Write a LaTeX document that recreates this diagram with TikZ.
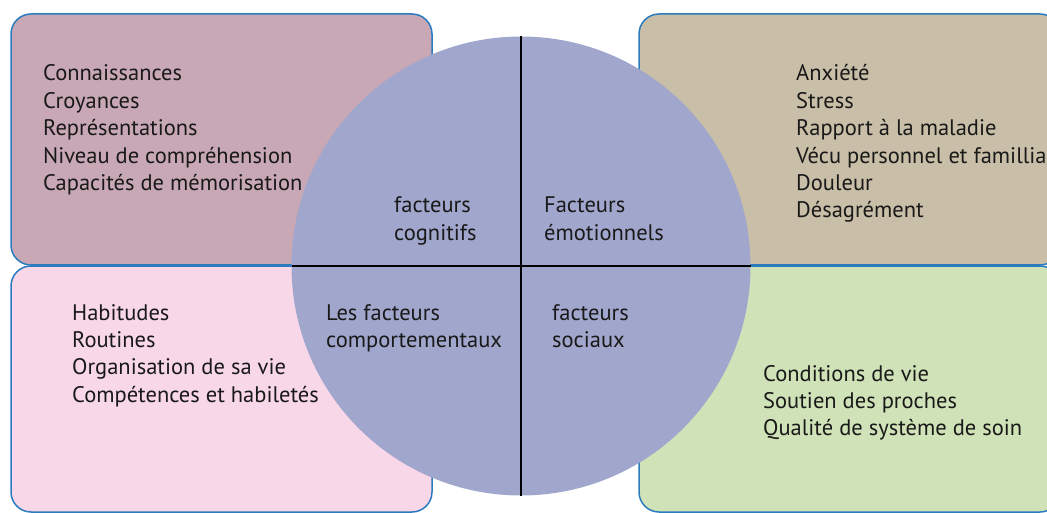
\documentclass[tikz,border=0pt]{standalone}
\usepackage{fontspec}
\setmainfont{PT Sans}
\definecolor{tlfill}{HTML}{C8A8B5}
\definecolor{blfill}{HTML}{F8D7E8}
\definecolor{trfill}{HTML}{C9BEA7}
\definecolor{brfill}{HTML}{D0E2B8}
\definecolor{circfill}{HTML}{A1A7CC}
\definecolor{boxline}{HTML}{2B7BBF}
\begin{document}
\begin{tikzpicture}[x=1pt,y=-1pt,
  panel/.style={draw=boxline, line width=1.5pt, rounded corners=20pt},
  lst/.style={anchor=base west, inner sep=0pt, align=left, text=black!90,
     font={\fontsize{22.5}{27.4}\selectfont}},
  divider/.style={draw=black, line width=1.8pt}]
\useasboundingbox (0,0) rectangle (1047,513);
\clip (0,0) rectangle (1047,513);
\path[panel, fill=tlfill] (11,14) rectangle (432,265);
\path[panel, fill=blfill] (11,266) rectangle (432,512);
\path[panel, fill=trfill] (639,14) rectangle (1060,265);
\path[panel, fill=brfill] (639,266) rectangle (1060,512);
\fill[circfill] (521,266) circle (229.5);
\coordinate (ctop) at (521,36.5);
\coordinate (cbot) at (521,495.5);
\coordinate (cleft) at (291.5,266);
\coordinate (cright) at (750.5,266);
\draw[divider] (ctop) -- (cbot);
\draw[divider] (cleft) -- (cright);
% anchor base = baseline of the last line
\node[lst] (cog) at (43,190.6) {Connaissances\\Croyances\\Représentations\\Niveau de compréhension\\Capacités de mémorisation};
\node[lst] (emo) at (796,218) {Anxiété\\Stress\\Rapport à la maladie\\Vécu personnel et famillial\\Douleur\\Désagrément};
\node[lst] (comp) at (72,402.2) {Habitudes\\Routines\\Organisation de sa vie\\Compétences et habiletés};
\node[lst] (soc) at (763,435.8) {Conditions de vie\\Soutien des proches\\Qualité de système de soin};
\node[lst] (lcog) at (394,240.4) {facteurs\\cognitifs};
\node[lst] (lemo) at (544,240.4) {Facteurs\\émotionnels};
\node[lst] (lcomp) at (326,347.4) {Les facteurs\\comportementaux};
\node[lst] (lsoc) at (552,347.4) {facteurs\\sociaux};
\end{tikzpicture}
\end{document}
